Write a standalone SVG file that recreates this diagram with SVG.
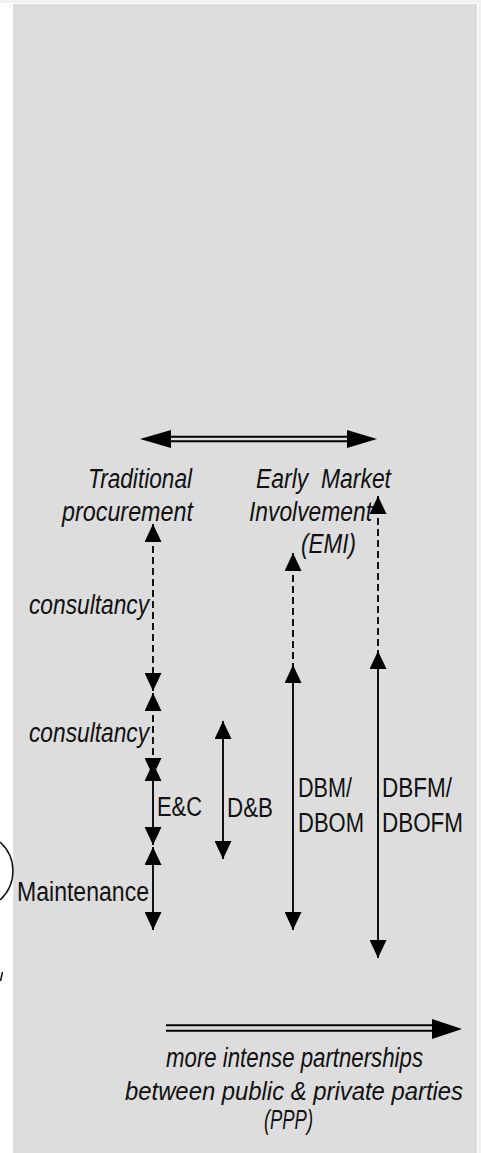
<svg xmlns="http://www.w3.org/2000/svg" width="481" height="1153" viewBox="0 0 481 1153">
<style>
.t{font-family:"Liberation Sans",Arial,sans-serif;font-size:27px;fill:#111;}
.i{font-style:italic;}
.m{text-anchor:middle;}
.ln{stroke:#111;stroke-width:2;fill:none;}
.ds{stroke-dasharray:7 4;}
</style>
<defs>
<marker id="ah" viewBox="0 0 18 17" markerWidth="18" markerHeight="17" refX="18" refY="8.5" markerUnits="userSpaceOnUse" orient="auto-start-reverse">
<path d="M0,0 L18,8.5 L0,17 Z" fill="#000"/>
</marker>
</defs>
<rect x="0" y="0" width="481" height="1153" fill="#ffffff"/>
<rect x="0" y="0" width="481" height="3" fill="#f2f2f2"/>
<rect x="478" y="3" width="3" height="1150" fill="#f2f2f2"/>
<rect x="13" y="4" width="464" height="1149" fill="#dddddd"/>
<g id="decor">
<path d="M0,842 A39,39 0 0 1 0,900" fill="none" stroke="#111" stroke-width="1.5"/>
<line x1="0.5" y1="981" x2="2.5" y2="972" stroke="#111" stroke-width="1.5"/>
</g>
<g id="connectors">
<line x1="170" y1="439" x2="348" y2="439" stroke="#000" stroke-width="6.6"/>
<line x1="169" y1="439" x2="349" y2="439" stroke="#dddddd" stroke-width="2.3"/>
<path d="M140,439 L171,430 L171,448 Z" fill="#000"/>
<path d="M377,439 L347,430 L347,448 Z" fill="#000"/>
<line class="ln ds" x1="153" y1="524" x2="153" y2="691" marker-start="url(#ah)" marker-end="url(#ah)"/>
<line class="ln ds" x1="153" y1="693" x2="153" y2="776" marker-start="url(#ah)" marker-end="url(#ah)"/>
<line class="ln" x1="153" y1="763" x2="153" y2="845" marker-start="url(#ah)" marker-end="url(#ah)"/>
<line class="ln" x1="153" y1="847" x2="153" y2="930" marker-start="url(#ah)" marker-end="url(#ah)"/>
<line class="ln" x1="223" y1="721" x2="223" y2="859" marker-start="url(#ah)" marker-end="url(#ah)"/>
<line class="ln ds" x1="293" y1="553" x2="293" y2="665" marker-start="url(#ah)"/>
<line class="ln" x1="293" y1="665" x2="293" y2="930" marker-start="url(#ah)" marker-end="url(#ah)"/>
<line class="ln ds" x1="378" y1="496" x2="378" y2="651" marker-start="url(#ah)"/>
<line class="ln" x1="378" y1="651" x2="378" y2="958" marker-start="url(#ah)" marker-end="url(#ah)"/>
<line x1="166" y1="1028" x2="434" y2="1028" stroke="#000" stroke-width="7.4"/>
<line x1="165" y1="1028" x2="435" y2="1028" stroke="#dddddd" stroke-width="3.4"/>
<path d="M462,1029 L432,1019 L432,1039 Z" fill="#000"/>
</g>
<g id="traditional">
<text class="t i" x="88" y="488" textLength="104" lengthAdjust="spacingAndGlyphs">Traditional</text>
<text class="t i" x="62" y="521" textLength="131" lengthAdjust="spacingAndGlyphs">procurement</text>
</g>
<g id="emi">
<text class="t i" x="256" y="488" textLength="135" lengthAdjust="spacingAndGlyphs" xml:space="preserve">Early  Market</text>
<text class="t i" x="249" y="521" textLength="123" lengthAdjust="spacingAndGlyphs">Involvement</text>
<text class="t i" x="301" y="553" textLength="55" lengthAdjust="spacingAndGlyphs">(EMI)</text>
</g>
<g id="consultancy1">
<text class="t i" x="29" y="614" textLength="120" lengthAdjust="spacingAndGlyphs">consultancy</text>
</g>
<g id="consultancy2">
<text class="t i" x="29" y="742" textLength="120" lengthAdjust="spacingAndGlyphs">consultancy</text>
</g>
<g id="ec">
<text class="t" x="157" y="816" textLength="45" lengthAdjust="spacingAndGlyphs">E&amp;C</text>
</g>
<g id="db">
<text class="t" x="227" y="817" textLength="46" lengthAdjust="spacingAndGlyphs">D&amp;B</text>
</g>
<g id="dbm">
<text class="t" x="298" y="797" textLength="54" lengthAdjust="spacingAndGlyphs">DBM/</text>
<text class="t" x="298" y="832" textLength="66" lengthAdjust="spacingAndGlyphs">DBOM</text>
</g>
<g id="dbfm">
<text class="t" x="382" y="797" textLength="70" lengthAdjust="spacingAndGlyphs">DBFM/</text>
<text class="t" x="382" y="832" textLength="81" lengthAdjust="spacingAndGlyphs">DBOFM</text>
</g>
<g id="maintenance">
<text class="t" x="17" y="901" textLength="132" lengthAdjust="spacingAndGlyphs">Maintenance</text>
</g>
<g id="ppp">
<text class="t i m" x="294.5" y="1067" textLength="257" lengthAdjust="spacingAndGlyphs">more intense partnerships</text>
<text class="t i m" x="294" y="1100" style="font-size:25px" textLength="338" lengthAdjust="spacingAndGlyphs">between public &amp; private parties</text>
<text class="t i m" x="288.5" y="1129" textLength="49" lengthAdjust="spacingAndGlyphs">(PPP)</text>
</g>
</svg>
